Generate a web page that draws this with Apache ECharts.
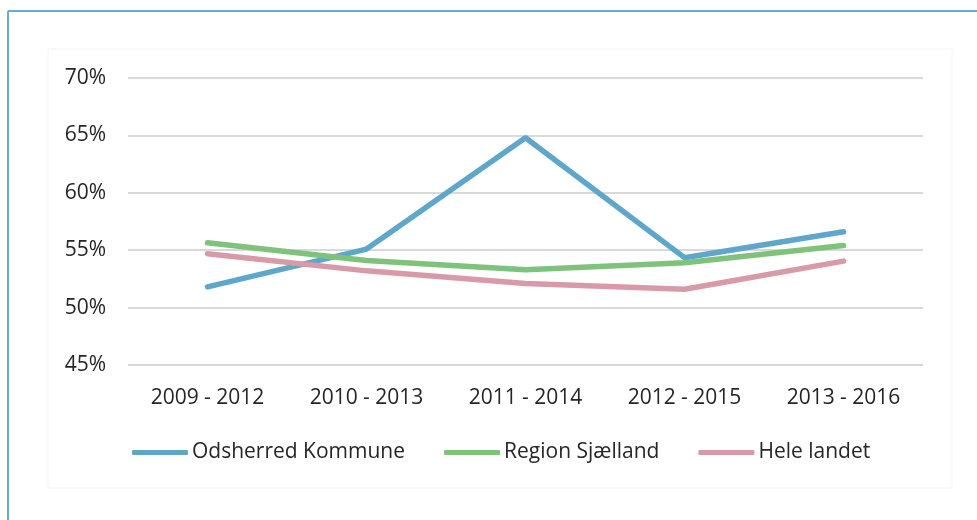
<!DOCTYPE html>
<html>
<head>
<meta charset="utf-8">
<script src="https://cdn.jsdelivr.net/npm/echarts@6/dist/echarts.min.js"></script>
<style>
html,body{margin:0;padding:0;background:#fff;}
#chart{width:977px;height:520px;}
</style>
</head>
<body>
<div id="chart"></div>
<script>
var categories = ['2009 - 2012', '2010 - 2013', '2011 - 2014', '2012 - 2015', '2013 - 2016'];
var odsherred = [51.8, 55.1, 64.8, 54.35, 56.6];
var regionSjaelland = [55.65, 54.1, 53.3, 53.9, 55.4];
var heleLandet = [54.7, 53.2, 52.1, 51.6, 54.05];
var seriesNames = ['Odsherred Kommune', 'Region Sjælland', 'Hele landet'];
var seriesColors = ['#5FA7CA', '#7FC27B', '#D89AA8'];

var chart = echarts.init(document.getElementById('chart'), null, {renderer: 'canvas'});
var font = '"Open Sans", "Noto Sans", sans-serif';
var data = [odsherred, regionSjaelland, heleLandet];

var option = {
  backgroundColor: '#fff',
  animation: false,
  textStyle: {fontFamily: font},
  graphic: [
    {type: 'rect', shape: {x: 48, y: 49, width: 904, height: 439}, style: {fill: 'none', stroke: '#f2f2f2', lineWidth: 1}, z: -10},
    {type: 'line', shape: {x1: 8, y1: 11, x2: 977, y2: 11}, style: {stroke: '#6AABCC', lineWidth: 2}},
    {type: 'line', shape: {x1: 8, y1: 11, x2: 8, y2: 520}, style: {stroke: '#6AABCC', lineWidth: 2}}
  ],
  grid: {left: 128, right: 54, top: 78, bottom: 155, containLabel: false},
  legend: {
    left: 132,
    top: 442,
    padding: 0,
    icon: 'roundRect',
    itemWidth: 56,
    itemHeight: 5,
    itemGap: 39,
    textStyle: {fontFamily: font, fontSize: 21, color: '#262626', padding: [0, 0, 0, -1]},
    data: seriesNames
  },
  xAxis: {
    type: 'category',
    data: categories,
    boundaryGap: true,
    axisLine: {show: false},
    axisTick: {show: false},
    axisLabel: {fontFamily: font, fontSize: 21, color: '#262626', margin: 23}
  },
  yAxis: {
    type: 'value',
    min: 45,
    max: 70,
    interval: 5,
    axisLine: {show: false},
    axisTick: {show: false},
    splitLine: {lineStyle: {color: '#d9d9d9', width: 2}},
    axisLabel: {fontFamily: font, fontSize: 21, color: '#262626', margin: 22, formatter: '{value}%'}
  },
  series: seriesNames.map(function (n, i) {
    return {
      name: n,
      type: 'line',
      data: data[i],
      symbol: 'none',
      color: seriesColors[i],
      lineStyle: {width: 5.5, color: seriesColors[i], cap: 'round', join: 'round'},
      itemStyle: {color: seriesColors[i]}
    };
  })
};
chart.setOption(option);
</script>
</body>
</html>
